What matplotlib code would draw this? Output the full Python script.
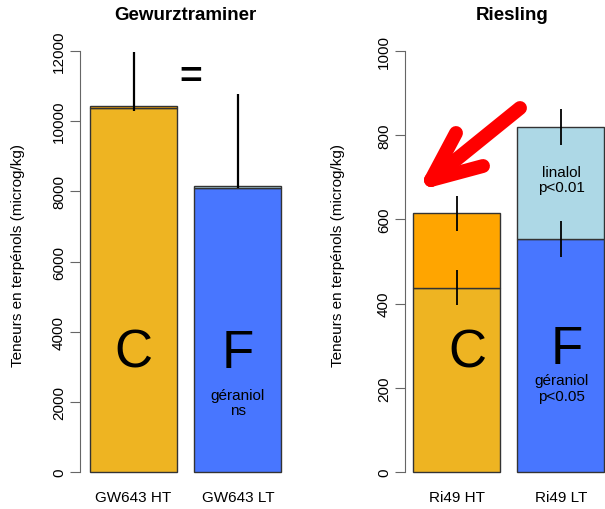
import matplotlib
matplotlib.use('Agg')
import matplotlib.pyplot as plt

plt.rcParams['font.family'] = ['Liberation Sans', 'DejaVu Sans']

# Gewurztraminer
gw_labels = ['GW643 HT', 'GW643 LT']
gw_geraniol = [10370, 8100]
gw_linalol = [60, 57]
gw_err_low = [10300, 8080]
gw_err_high = [11980, 10770]

# Riesling
ri_labels = ['Ri49 HT', 'Ri49 LT']
ri_geraniol = [437, 554]
ri_linalol = [178, 266]
ri_ger_err = [(396, 480), (511, 596)]
ri_tot_err = [(573, 656), (777, 862)]

W, H = 605, 510
fig = plt.figure(figsize=(W / 100, H / 100), dpi=100)


def px_axes(left, top, right, bottom):
    return fig.add_axes([left / W, (H - bottom) / H, (right - left) / W, (bottom - top) / H])


def style(ax, ymax, step, xlo, xhi, lab_x):
    ax.set_ylim(-0.04 * ymax, 1.04 * ymax)
    ax.set_xlim(xlo, xhi)
    for s in ['top', 'right', 'bottom']:
        ax.spines[s].set_visible(False)
    ax.spines['left'].set_bounds(0, ymax)
    ax.spines['left'].set_color('#666666')
    ax.set_yticks(range(0, ymax + 1, step))
    ax.tick_params(axis='y', length=7, color='#666666', labelsize=11, pad=3)
    for t in ax.get_yticklabels():
        t.set_rotation(90)
        t.set_va('center')
    ax.tick_params(axis='x', length=0, labelsize=11, pad=1)
    ax.set_ylabel('Teneurs en terpénols (microg/kg)', fontsize=11)
    ax.yaxis.label.set_va('center')
    ax.yaxis.set_label_coords(lab_x, 0.516)


pos = [0.7, 1.9]
gold = '#EEB422'
orange = '#FFA500'
blue = '#4876FF'
lblue = '#ADD8E6'
edge = '#333333'

# left panel
ax1 = px_axes(80, 35, 290, 490)
style(ax1, 12000, 2000, 0.085, 2.499, (18 - 80) / 210)
ax1.bar(pos, gw_geraniol, width=1, color=[gold, blue], edgecolor=edge, linewidth=1)
ax1.bar(pos, gw_linalol, width=1, bottom=gw_geraniol, color=[orange, lblue], edgecolor=edge, linewidth=1)
ax1.vlines(pos, gw_err_low, gw_err_high, color='black', linewidth=1.6)
ax1.set_xticks(pos)
ax1.set_xticklabels(gw_labels)
ax1.set_title('Gewurztraminer', fontsize=13.5, fontweight='bold', pad=11)
ax1.text(pos[0], 3400, 'C', fontsize=38, ha='center', va='center')
ax1.text(pos[1], 3400, 'F', fontsize=38, ha='center', va='center')
ax1.text(pos[1], 1980, 'géraniol\nns', fontsize=11, ha='center', va='center', linespacing=1.15)
ax1.text(1.355, 11250, '=', fontsize=28, fontweight='bold', ha='center', va='center')

# right panel
ax2 = px_axes(405, 35, 620, 490)
style(ax2, 1000, 200, 0.108, 2.579, (338 - 405) / 215)
ax2.bar(pos, ri_geraniol, width=1, color=[gold, blue], edgecolor=edge, linewidth=1)
ax2.bar(pos, ri_linalol, width=1, bottom=ri_geraniol, color=[orange, lblue], edgecolor=edge, linewidth=1)
for p, (lo, hi) in zip(pos, ri_ger_err):
    ax2.vlines(p, lo, hi, color='black', linewidth=1.3)
for p, (lo, hi) in zip(pos, ri_tot_err):
    ax2.vlines(p, lo, hi, color='black', linewidth=1.3)
ax2.set_xticks(pos)
ax2.set_xticklabels(ri_labels)
ax2.set_title('Riesling', fontsize=13.5, fontweight='bold', pad=11)
ax2.text(pos[0] + 0.12, 285, 'C', fontsize=38, ha='center', va='center')
ax2.text(pos[1] + 0.07, 292, 'F', fontsize=38, ha='center', va='center')
ax2.text(pos[1] + 0.01, 200, 'géraniol\np<0.05', fontsize=11, ha='center', va='center', linespacing=1.15)
ax2.text(pos[1] + 0.01, 695, 'linalol\np<0.01', fontsize=11, ha='center', va='center', linespacing=1.15)

# red arrow, drawn as three thick strokes in figure pixels
def fig_pt(x, y):
    return x / W, (H - y) / H

tip = fig_pt(431, 181)
for start in [fig_pt(520, 109), fig_pt(456, 134), fig_pt(483, 167)]:
    fig.add_artist(plt.Line2D([start[0], tip[0]], [start[1], tip[1]], transform=fig.transFigure,
                              color='red', linewidth=10, solid_capstyle='round'))

fig.savefig('out.png', dpi=100)
